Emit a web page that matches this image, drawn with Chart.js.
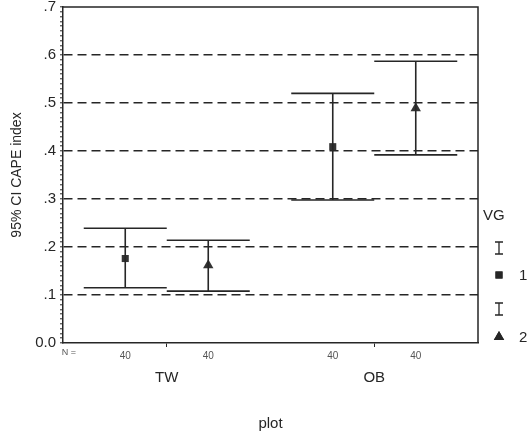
<!DOCTYPE html>
<html>
<head>
<meta charset="utf-8">
<script src="https://cdn.jsdelivr.net/npm/chart.js@4.4.0/dist/chart.umd.min.js"></script>
<style>
    html, body { margin: 0; padding: 0; background: #fff; }
    #wrap { width: 528px; height: 435px; }
</style>
</head>
<body>
<div id="wrap"><canvas id="chart"></canvas></div>
<script>
// plots on the x axis, VG groups inside each plot
const plots = ['TW', 'OB'];
const groups = ['1', '2'];
const counts = [40, 40, 40, 40]; // N, in drawing order TW-1, TW-2, OB-1, OB-2

// 95% CI of CAPE index, per group, one value per plot
const group1Mean = [0.176, 0.409];
const group1Low = [0.115, 0.298];
const group1High = [0.239, 0.520];
const group2Mean = [0.162, 0.489];
const group2Low = [0.108, 0.392];
const group2High = [0.214, 0.587];

const GROUP_OFFSET = 0.2;
const CAP_HALF = 0.2;
const INK = '#262626';
const FONT = "'Liberation Sans', Arial, sans-serif";

Chart.defaults.font.family = FONT;
Chart.defaults.color = INK;

const groupX = (plotIndex, groupIndex) =>
    plotIndex + 0.5 + (groupIndex === 0 ? -GROUP_OFFSET : GROUP_OFFSET);

// error bar as one line dataset: top cap, whisker, bottom cap, with gaps between
const errorBarPoints = (lows, highs, groupIndex) => {
    const pts = [];
    plots.forEach((_, i) => {
        const cx = groupX(i, groupIndex);
        pts.push({ x: cx - CAP_HALF, y: highs[i] }, { x: cx + CAP_HALF, y: highs[i] }, { x: cx, y: null });
        pts.push({ x: cx, y: highs[i] }, { x: cx, y: lows[i] }, { x: cx, y: null });
        pts.push({ x: cx - CAP_HALF, y: lows[i] }, { x: cx + CAP_HALF, y: lows[i] }, { x: cx, y: null });
    });
    return pts;
};

const meanPoints = (means, groupIndex) => means.map((m, i) => ({ x: groupX(i, groupIndex), y: m }));

const lineStyle = {
    type: 'line',
    borderColor: INK,
    borderWidth: 1.6,
    pointRadius: 0,
    spanGaps: false,
    tension: 0,
    fill: false,
};

const datasets = [
    { ...lineStyle, label: 'CI ' + groups[0], data: errorBarPoints(group1Low, group1High, 0) },
    { ...lineStyle, label: 'CI ' + groups[1], data: errorBarPoints(group2Low, group2High, 1) },
    {
        type: 'scatter', label: groups[0], data: meanPoints(group1Mean, 0),
        pointStyle: 'rect', pointRadius: 5, backgroundColor: '#333', borderColor: '#333', borderWidth: 0,
    },
    {
        type: 'scatter', label: groups[1], data: meanPoints(group2Mean, 1),
        pointStyle: 'triangle', pointRadius: 6, backgroundColor: '#333', borderColor: '#333', borderWidth: 0,
    },
];

const frameBox = {
    id: 'frameBox',
    afterDatasetsDraw(chart) {
        const { ctx, chartArea: a } = chart;
        ctx.save();
        ctx.strokeStyle = INK;
        ctx.lineWidth = 1.5;
        ctx.beginPath();
        ctx.moveTo(a.left, a.top);
        ctx.lineTo(a.right, a.top);
        ctx.lineTo(a.right, a.bottom);
        ctx.stroke();
        ctx.restore();
    }
};

const countLabels = {
    id: 'countLabels',
    afterDraw(chart) {
        const { ctx, chartArea: a } = chart;
        const xs = chart.scales.x;
        ctx.save();
        ctx.fillStyle = '#555';
        ctx.textAlign = 'center';
        ctx.textBaseline = 'middle';
        ctx.font = `9px ${FONT}`;
        ctx.fillText('N =', a.left + 6, a.bottom + 10);
        ctx.font = `10px ${FONT}`;
        let k = 0;
        plots.forEach((_, i) => {
            groups.forEach((_, g) => {
                ctx.fillText(String(counts[k++]), xs.getPixelForValue(groupX(i, g)), a.bottom + 13);
            });
        });
        ctx.restore();
    }
};

const vgLegend = {
    id: 'vgLegend',
    afterDraw(chart) {
        const { ctx, chartArea: a } = chart;
        const x0 = a.right + 5;
        const ix = a.right + 21;
        const drawBeam = (y) => {
            ctx.beginPath();
            ctx.moveTo(ix - 4, y - 6); ctx.lineTo(ix + 4, y - 6);
            ctx.moveTo(ix, y - 6); ctx.lineTo(ix, y + 6);
            ctx.moveTo(ix - 4, y + 6); ctx.lineTo(ix + 4, y + 6);
            ctx.stroke();
        };
        ctx.save();
        ctx.fillStyle = INK;
        ctx.strokeStyle = INK;
        ctx.lineWidth = 1.3;
        ctx.textBaseline = 'middle';
        ctx.textAlign = 'left';
        ctx.font = `15px ${FONT}`;
        ctx.fillText('VG', x0, 216);
        drawBeam(248);
        Chart.helpers.drawPoint(ctx, { pointStyle: 'rect', radius: 5, borderWidth: 0 }, ix, 275);
        ctx.fill();
        ctx.fillText(groups[0], a.right + 41, 276);
        drawBeam(309);
        ctx.fillStyle = INK;
        Chart.helpers.drawPoint(ctx, { pointStyle: 'triangle', radius: 6, borderWidth: 0 }, ix, 337);
        ctx.fill();
        ctx.fillText(groups[1], a.right + 41, 338);
        ctx.restore();
    }
};

new Chart(document.getElementById('chart'), {
    type: 'line',
    data: { datasets },
    options: {
        responsive: true,
        maintainAspectRatio: false,
        animation: false,
        events: [],
        layout: { padding: { top: 7, right: 50, left: 0, bottom: 0 } },
        plugins: {
            legend: { display: false },
            tooltip: { enabled: false },
        },
        scales: {
            x: {
                type: 'linear',
                min: 0,
                max: 2,
                afterBuildTicks: (s) => { s.ticks = plots.map((_, i) => ({ value: i + 0.5 })); },
                afterFit: (s) => { s.height = 92; s.paddingLeft = 0; s.paddingRight = 0; },
                ticks: {
                    autoSkip: false,
                    maxRotation: 0,
                    padding: 22,
                    color: INK,
                    font: { size: 15 },
                    callback: (v, i) => plots[i],
                },
                grid: { drawOnChartArea: false, tickLength: 4, color: INK, lineWidth: 1 },
                border: { color: INK, width: 1.5 },
                title: { display: true, text: 'plot', color: INK, font: { size: 15 }, padding: { top: 0, bottom: 2 } },
            },
            y: {
                min: 0,
                max: 0.7,
                afterFit: (s) => { s.width = 63; s.paddingTop = 0; s.paddingBottom = 0; },
                ticks: {
                    stepSize: 0.01,
                    autoSkip: false,
                    padding: 4,
                    color: INK,
                    font: { size: 15 },
                    callback: (v) => {
                        const k = Math.round(v * 100);
                        if (k % 10 !== 0) return '';
                        return k === 0 ? '0.0' : '.' + (k / 10);
                    },
                },
                grid: {
                    color: (c) => {
                        const k = Math.round(c.tick.value * 100);
                        return (k % 10 === 0 && k > 0 && k < 70) ? INK : 'rgba(0,0,0,0)';
                    },
                    lineWidth: 1.6,
                    tickLength: 3,
                    tickColor: INK,
                    tickWidth: 1,
                },
                border: { color: INK, width: 1.5, dash: [9, 5] },
                title: { display: true, text: '95% CI CAPE index', color: INK, font: { size: 14 }, padding: { top: 9, bottom: 0 } },
            },
        },
    },
    plugins: [frameBox, countLabels, vgLegend],
});
</script>
</body>
</html>
